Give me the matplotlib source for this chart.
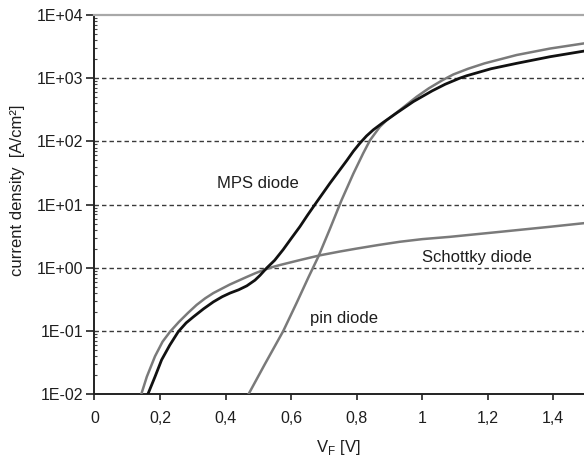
import matplotlib
matplotlib.use("Agg")
import matplotlib.pyplot as plt
from matplotlib.ticker import FixedLocator, LogLocator, NullFormatter

plt.rcParams['font.family'] = ['Liberation Sans', 'DejaVu Sans']

# Forward characteristics: forward voltage V_F [V] and current density [A/cm²]
schottky_v = [0.143, 0.160, 0.185, 0.208, 0.231, 0.258, 0.286, 0.312, 0.338, 0.363,
              0.389, 0.413, 0.440, 0.465, 0.490, 0.515, 0.540, 0.566, 0.627, 0.688,
              0.750, 0.800, 0.866, 0.932, 1.000, 1.085, 1.238, 1.390, 1.494]
schottky_j = [0.010, 0.019, 0.040, 0.068, 0.098, 0.140, 0.195, 0.26, 0.33, 0.40,
              0.47, 0.545, 0.63, 0.72, 0.82, 0.92, 1.02, 1.11, 1.33, 1.58,
              1.82, 2.02, 2.30, 2.59, 2.85, 3.1, 3.72, 4.47, 5.1]

mps_v = [0.163, 0.185, 0.205, 0.230, 0.256, 0.280, 0.302, 0.333, 0.363, 0.390,
         0.414, 0.440, 0.465, 0.490, 0.505, 0.526, 0.550, 0.576, 0.600, 0.627,
         0.650, 0.678, 0.719, 0.770, 0.790, 0.810, 0.830, 0.851, 0.881, 0.922,
         0.973, 1.030, 1.070, 1.114, 1.136, 1.210, 1.288, 1.390, 1.494]
mps_j = [0.010, 0.019, 0.035, 0.060, 0.098, 0.135, 0.168, 0.225, 0.29, 0.35,
         0.40, 0.45, 0.52, 0.64, 0.76, 1.0, 1.32, 1.95, 2.9, 4.5,
         6.8, 11.0, 22.0, 50.0, 70.0, 94.0, 122.0, 153.0, 200.0, 282.0,
         427.0, 630.0, 803.0, 1000.0, 1096.0, 1413.0, 1720.0, 2190.0, 2690.0]

pin_v = [0.470, 0.520, 0.576, 0.617, 0.653, 0.683, 0.719, 0.754, 0.790, 0.820,
         0.841, 0.871, 0.892, 0.932, 0.983, 1.020, 1.062, 1.095, 1.140, 1.190,
         1.288, 1.390, 1.494]
pin_j = [0.010, 0.030, 0.100, 0.28, 0.71, 1.5, 4.2, 11.8, 31.0, 65.0,
         105.0, 171.0, 218.0, 314.0, 509.0, 692.0, 933.0, 1148.0, 1413.0, 1718.0,
         2330.0, 2950.0, 3560.0]

x_ticks = [0, 0.2, 0.4, 0.6, 0.8, 1.0, 1.2, 1.4]
x_tick_labels = ["0", "0,2", "0,4", "0,6", "0,8", "1", "1,2", "1,4"]
y_ticks = [1e-2, 1e-1, 1e0, 1e1, 1e2, 1e3, 1e4]
y_tick_labels = ["1E-02", "1E-01", "1E+00", "1E+01", "1E+02", "1E+03", "1E+04"]

text_color = "#1e1e1e"
gray = "#7a7a7a"

fig = plt.figure(figsize=(5.84, 4.65), dpi=100)
ax = fig.add_axes([0.1616, 0.152, 0.8384, 0.8157])

ax.set_yscale("log")
ax.set_xlim(0, 1.4935)
ax.set_ylim(1e-2, 1e4)

# dashed decade grid lines
for yv in y_ticks[1:-1]:
    ax.axhline(yv, color="#3a3a3a", lw=1.0, ls=(0, (3.2, 2.2)), zorder=1)

ax.plot(schottky_v, schottky_j, color=gray, lw=1.8, solid_joinstyle="round", zorder=3)
ax.plot(pin_v, pin_j, color=gray, lw=1.8, solid_joinstyle="round", zorder=3)
ax.plot(mps_v, mps_j, color="#111111", lw=2.0, solid_joinstyle="round", zorder=4)

ax.text(0.50, 22.0, "MPS diode", fontsize=12, color=text_color, ha="center", va="center")
ax.text(1.166, 1.45, "Schottky diode", fontsize=12, color=text_color, ha="center", va="center")
ax.text(0.762, 0.158, "pin diode", fontsize=12, color=text_color, ha="center", va="center")

# axes frame
ax.spines["right"].set_visible(False)
ax.spines["top"].set_color("#a8a8a8")
ax.spines["top"].set_linewidth(1.6)
ax.spines["left"].set_color("#222222")
ax.spines["left"].set_linewidth(1.4)
ax.spines["bottom"].set_color("#222222")
ax.spines["bottom"].set_linewidth(1.4)

ax.xaxis.set_major_locator(FixedLocator(x_ticks))
ax.set_xticklabels(x_tick_labels)
ax.yaxis.set_major_locator(FixedLocator(y_ticks))
ax.set_yticklabels(y_tick_labels)
ax.yaxis.set_minor_locator(LogLocator(base=10, subs=range(2, 10), numticks=20))
ax.yaxis.set_minor_formatter(NullFormatter())

ax.tick_params(axis="x", which="major", direction="out", length=4, width=1.2,
               color="#222222", labelsize=11.5, labelcolor=text_color, pad=8)
ax.tick_params(axis="y", which="major", direction="out", length=6, width=1.2,
               color="#222222", labelsize=11.5, labelcolor=text_color, pad=2)
ax.tick_params(axis="y", which="minor", direction="in", length=2.5, width=0.8,
               color="#444444")

fig.text(18 / 584, 1 - 190 / 465, "current density  [A/cm²]", rotation=90,
         fontsize=12, color=text_color, ha="center", va="center")
fig.text(338 / 584, 1 - 447 / 465, r"V$_\mathregular{F}$ [V]",
         fontsize=12, color=text_color, ha="center", va="center")

fig.savefig("out.png", dpi=100)
